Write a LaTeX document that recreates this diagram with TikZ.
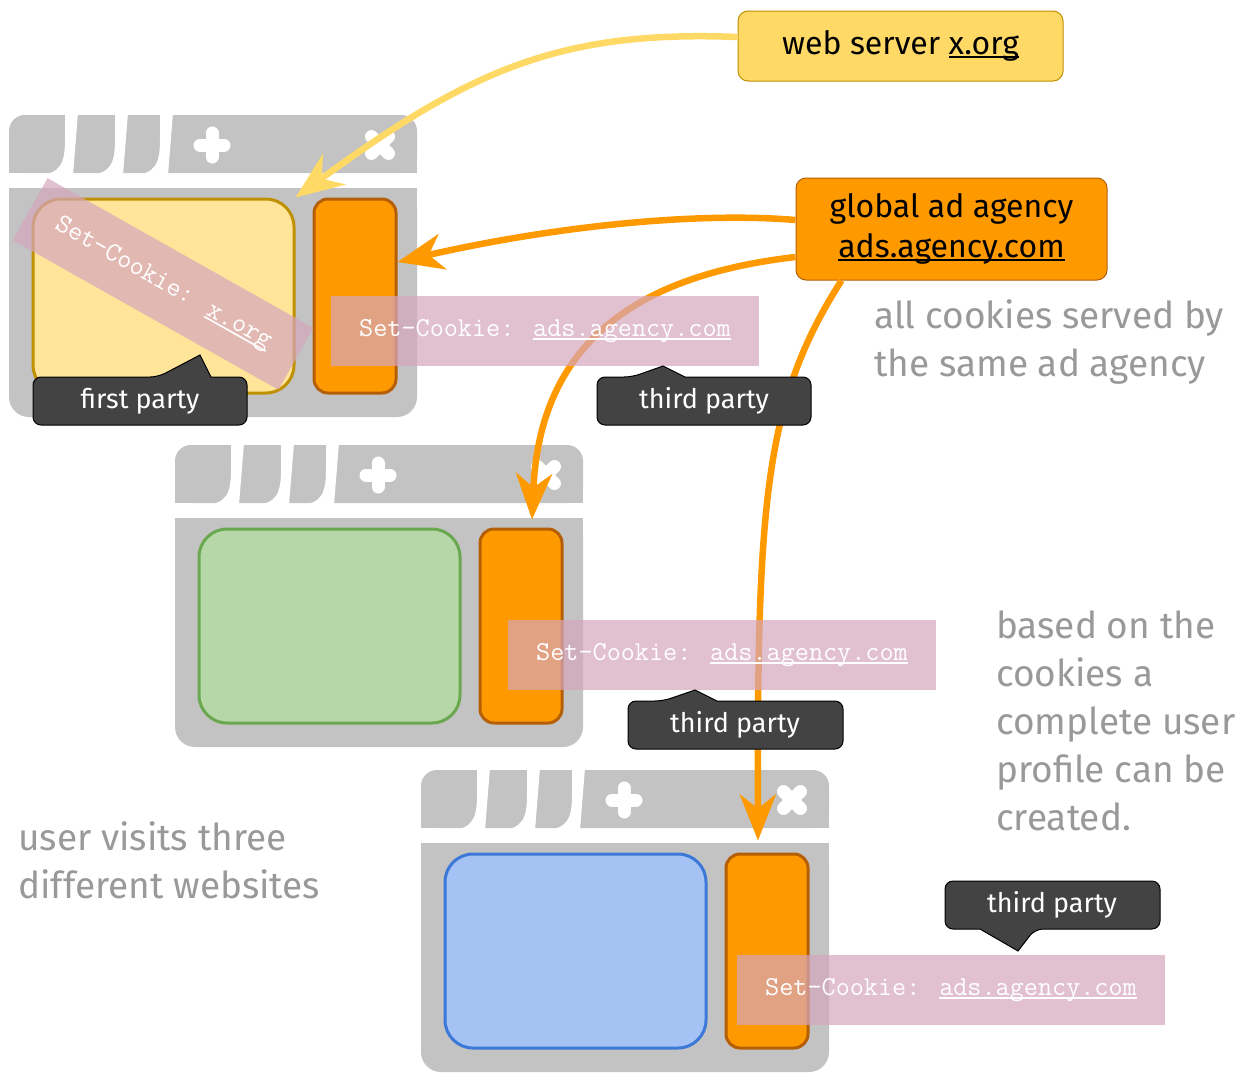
\documentclass[tikz,border=0pt]{standalone}
\usepackage{fontspec}
\setmainfont{Fira Sans}
\usetikzlibrary{arrows.meta}
\definecolor{bgray}{HTML}{C3C3C3}
\definecolor{yfill}{HTML}{FFE599}
\definecolor{ydraw}{HTML}{BF9000}
\definecolor{gfill}{HTML}{B6D7A8}
\definecolor{gdraw}{HTML}{6AA84F}
\definecolor{bfill}{HTML}{A4C2F4}
\definecolor{bdraw}{HTML}{3C78D8}
\definecolor{orfill}{HTML}{FF9900}
\definecolor{ordraw}{HTML}{B45F06}
\definecolor{wsfill}{HTML}{FFD966}
\definecolor{calloutc}{HTML}{434343}
\definecolor{pinkc}{HTML}{D5A6BD}
\definecolor{txtgray}{HTML}{999999}
\newcommand\myul[1]{\setbox0\hbox{#1}\rlap{\rule[-3.5pt]{\wd0}{1.6pt}}\box0}
\newcommand\brwsr[5]{%
\begin{scope}[shift={(#1,#2)}]
  \fill[bgray,rounded corners=16pt] (9,115) rectangle (417,173);
  \fill[bgray] (9,150) rectangle (417,173);
  \fill[bgray,rounded corners=20pt] (9,188) rectangle (417,417);
  \fill[bgray] (9,188) rectangle (417,230);
  \foreach \o in {0,50,95} {
    \fill[white,shift={(\o,0)}] (65,113) -- (65,140) .. controls (65,164) and (60,174) .. (38,175) -- (73,175) -- (78,113) -- cycle;
  }
  \draw[iconline] (200,145) -- (224,145) (212,133) -- (212,157);
  \draw[iconline,rotate around={45:(380,145)}] (368,145) -- (392,145) (380,133) -- (380,157);
  \node[mainbox,fill=#3,draw=#4] (m#5) at (163.5,296) {};
  \node[sidebox] (o#5) at (355,296) {};
\end{scope}}
\begin{document}
\begin{tikzpicture}[x=1pt,y=-1pt,
  iconline/.style={white,line width=13pt,line cap=round},
  mainbox/.style={rectangle,rounded corners=28pt,line width=3pt,minimum width=261pt,minimum height=194pt,inner sep=0pt},
  sidebox/.style={rectangle,rounded corners=14pt,line width=3pt,fill=orfill,draw=ordraw,minimum width=82pt,minimum height=194pt,inner sep=0pt},
  serverbox/.style={rectangle,rounded corners=10pt,line width=1pt,inner sep=0pt,font=\fontsize{32}{40}\selectfont,align=center},
  cookie/.style={rectangle,fill=pinkc,fill opacity=0.7,text opacity=1,text=white,minimum width=428pt,minimum height=70pt,inner sep=0pt,font=\ttfamily\fontsize{27.4}{30}\selectfont},
  callout/.style={fill=calloutc,draw=black,line width=1pt},
  callouttext/.style={text=white,font=\fontsize{27}{32}\selectfont,inner sep=0pt},
  graytext/.style={text=txtgray,font=\fontsize{37}{48}\selectfont,align=left,inner sep=0pt,anchor=north west},
  yarrow/.style={draw=wsfill,line width=6.5pt,-{Stealth[length=48pt,width=38pt,inset=16pt]}},
  oarrow/.style={draw=orfill,line width=6.5pt,-{Stealth[length=46pt,width=36pt,inset=14pt]}}
]
\fill[white] (0,0) rectangle (1260,1084);
\useasboundingbox (0,0) rectangle (1260,1084);

% browsers
\brwsr{0}{0}{yfill}{ydraw}{1}
\brwsr{166}{330}{gfill}{gdraw}{2}
\brwsr{412}{655}{bfill}{bdraw}{3}

% server boxes
\node[serverbox,fill=wsfill,draw=ydraw,minimum width=325pt,minimum height=70pt] (ws) at (900.5,46) {web server \myul{x.org}};
\node[serverbox,fill=orfill,draw=ordraw,minimum width=311pt,minimum height=102pt] (ad) at (951.5,229) {global ad agency\\\myul{ads.agency.com}};

% arrows
\draw[yarrow] ([yshift=9pt]ws.west) .. controls (560,30) and (470,70) .. (m1.north east);
\draw[oarrow] ([yshift=9pt]ad.west) .. controls (700,212) and (560,225) .. ([yshift=34pt]o1.east);
\draw[oarrow] ([yshift=-28pt]ad.west) .. controls (640,275) and (540,340) .. ([xshift=11pt,yshift=8pt]o2.north);
\draw[oarrow] ([xshift=46pt]ad.south west) .. controls (765,400) and (757,500) .. ([xshift=-9pt,yshift=12pt]o3.north);

% cookies
\node[cookie,minimum width=305pt,minimum height=71pt,rotate=-29.4] (c0) at (163,284) {Set-Cookie: \myul{x.org}};
\node[cookie] (c1) at (545,331) {Set-Cookie: \myul{ads.agency.com}};
\node[cookie] (c2) at (722,655) {Set-Cookie: \myul{ads.agency.com}};
\node[cookie] (c3) at (951,990) {Set-Cookie: \myul{ads.agency.com}};

% callouts
\draw[callout] (140,425) [rounded corners=8pt] -- (33,425) -- (33,377) -- (158,377) [sharp corners] -- (200,355) -- (211,377) [rounded corners=8pt] -- (247,377) -- (247,425) -- cycle;
\node[callouttext] (fp) at (140,401) {first party};
\draw[callout] (704,425) [rounded corners=8pt] -- (597,425) -- (597,377) -- (632,377) [sharp corners] -- (663,366) -- (685,377) [rounded corners=8pt] -- (811,377) -- (811,425) -- cycle;
\node[callouttext] (tp1) at (704,401) {third party};
\draw[callout] (735,749) [rounded corners=8pt] -- (628,749) -- (628,701) -- (663,701) [sharp corners] -- (695,690) -- (717,701) [rounded corners=8pt] -- (843,701) -- (843,749) -- cycle;
\node[callouttext] (tp2) at (735,725) {third party};
\draw[callout] (1052,881) [rounded corners=8pt] -- (1160,881) -- (1160,929) -- (1035,929) [sharp corners] -- (1018,951) -- (980,929) [rounded corners=8pt] -- (945,929) -- (945,881) -- cycle;
\node[callouttext] (tp3) at (1052,905) {third party};

% gray texts
\node[graytext] (t1) at (874,299) {all cookies served by\\the same ad agency};
\node[graytext] (t2) at (996,611) {based on the\\cookies a\\complete user\\profile can be\\created.};
\node[graytext] (t3) at (18,821) {user visits three\\different websites};
\end{tikzpicture}
\end{document}
